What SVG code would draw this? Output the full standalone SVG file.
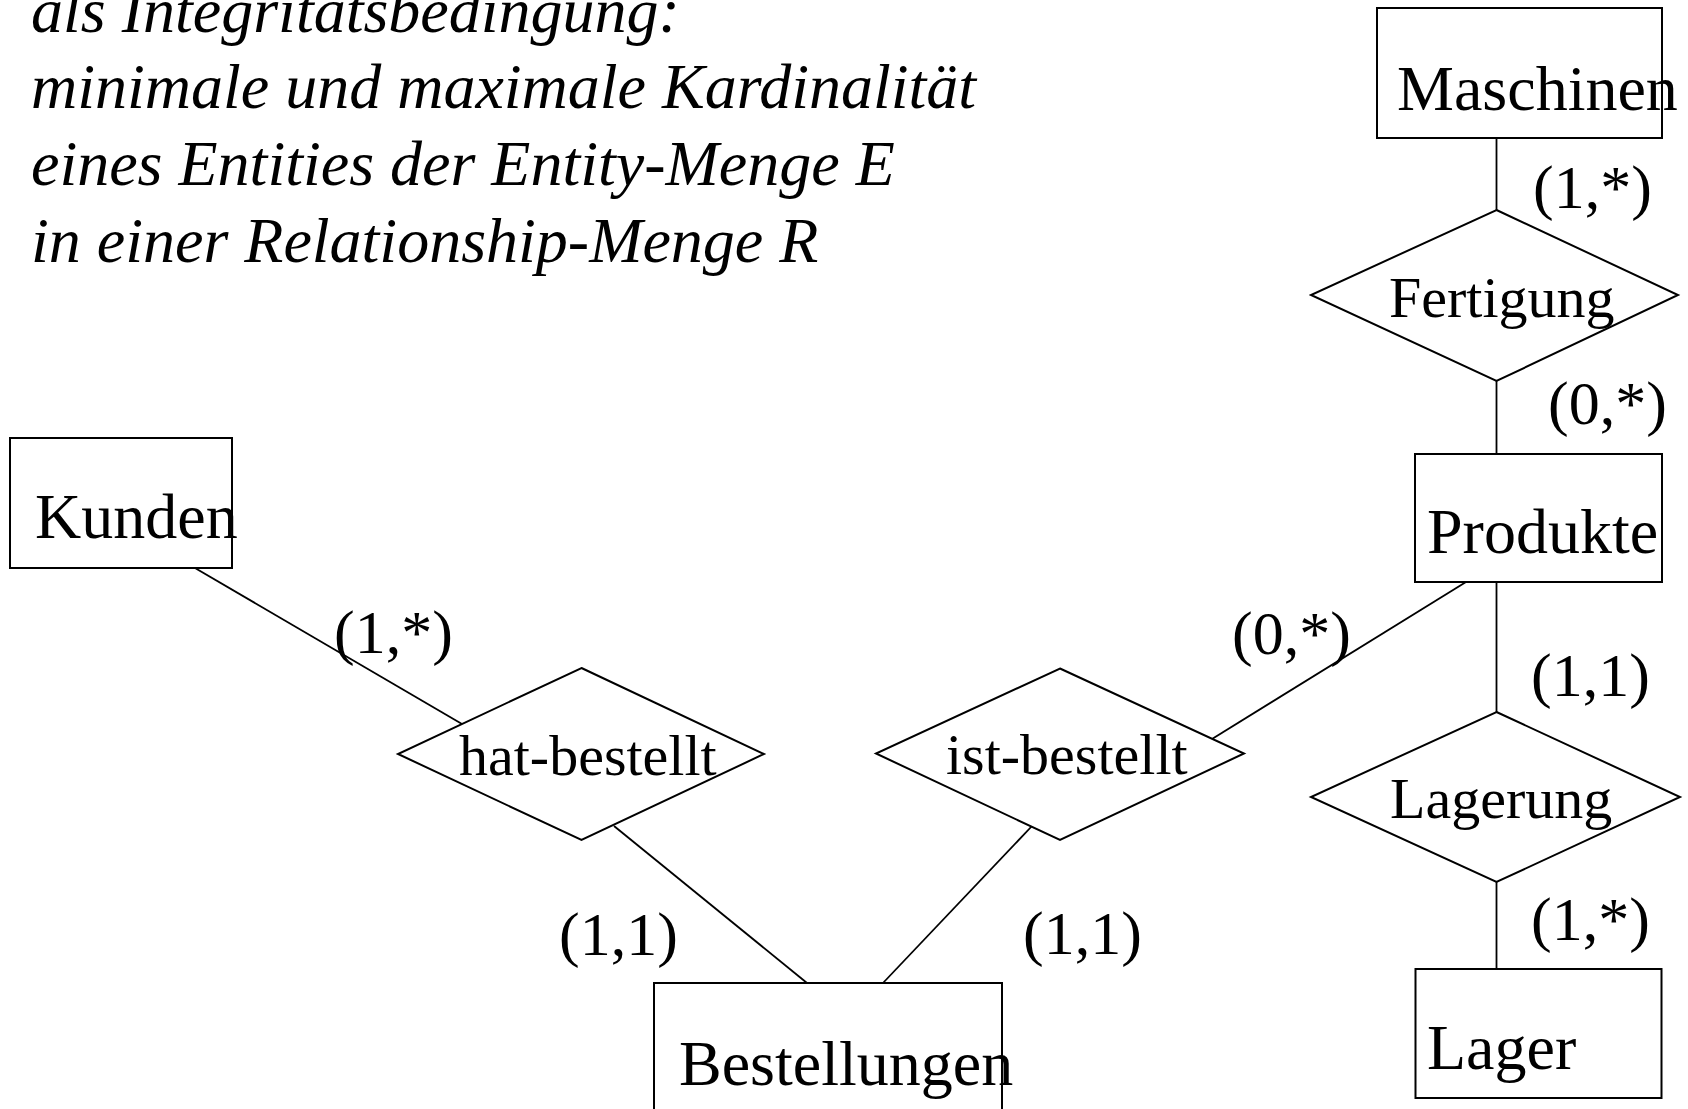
<svg xmlns="http://www.w3.org/2000/svg" width="1688" height="1109" viewBox="0 0 1688 1109">
<style>
  .ent { fill: #fff; stroke: #000; stroke-width: 2; }
  .rel { fill: #fff; stroke: #000; stroke-width: 2; }
  .conn line { stroke: #000; stroke-width: 1.8; }
  text { font-family: "Liberation Serif", "Times New Roman", serif; fill: #000; }
  .et { font-size: 64px; }
  .rt { font-size: 58px; }
  .ct { font-size: 62px; }
  .it { font-size: 64px; font-style: italic; }
</style>
<rect width="1688" height="1109" fill="#fff"/>
<g id="intro">
  <text class="it" x="31" y="32">als Integritätsbedingung:</text>
  <text class="it" x="31" y="108">minimale und maximale Kardinalität</text>
  <text class="it" x="31" y="185">eines Entities der Entity-Menge E</text>
  <text class="it" x="31" y="262">in einer Relationship-Menge R</text>
</g>
<g id="connectors" class="conn">
  <line x1="1496.5" y1="138" x2="1496.5" y2="210"/>
  <line x1="1496.5" y1="381" x2="1496.5" y2="454"/>
  <line x1="1496.5" y1="582" x2="1496.5" y2="712"/>
  <line x1="1496.5" y1="882" x2="1496.5" y2="969"/>
  <line x1="195" y1="568" x2="462" y2="724"/>
  <line x1="614" y1="826" x2="807" y2="983"/>
  <line x1="1466" y1="582" x2="1212" y2="739"/>
  <line x1="1032" y1="826" x2="883" y2="983"/>
</g>
<g id="Maschinen">
  <rect class="ent" x="1377" y="8" width="285" height="130"/>
  <text class="et" x="1397" y="110">Maschinen</text>
</g>
<g id="Fertigung">
  <polygon class="rel" points="1496.5,210 1678,295 1496.5,381 1311,295"/>
  <text class="rt" x="1389" y="317">Fertigung</text>
</g>
<g id="Produkte">
  <rect class="ent" x="1415" y="454" width="247" height="128"/>
  <text class="et" x="1427" y="553">Produkte</text>
</g>
<g id="Lagerung">
  <polygon class="rel" points="1496.5,712 1680,797 1496.5,882 1311,797"/>
  <text class="rt" x="1390" y="818">Lagerung</text>
</g>
<g id="Lager">
  <rect class="ent" x="1415.5" y="969" width="246" height="129"/>
  <text class="et" x="1427" y="1069">Lager</text>
</g>
<g id="Kunden">
  <rect class="ent" x="10" y="438" width="222" height="130"/>
  <text class="et" x="35" y="538">Kunden</text>
</g>
<g id="hat-bestellt">
  <polygon class="rel" points="581.5,668 764,754 581.5,840 398,754"/>
  <text class="rt" x="459" y="775">hat-bestellt</text>
</g>
<g id="ist-bestellt">
  <polygon class="rel" points="1060,668.5 1244,753.5 1060,840 876,753.5"/>
  <text class="rt" x="946" y="774">ist-bestellt</text>
</g>
<g id="Bestellungen">
  <rect class="ent" x="654" y="983" width="348" height="150"/>
  <text class="et" x="679" y="1085">Bestellungen</text>
</g>
<g id="cardinalities">
  <text class="ct" x="1533" y="208">(1,*)</text>
  <text class="ct" x="1548" y="424">(0,*)</text>
  <text class="ct" x="1531" y="696">(1,1)</text>
  <text class="ct" x="1531" y="940">(1,*)</text>
  <text class="ct" x="334" y="653">(1,*)</text>
  <text class="ct" x="1232" y="654">(0,*)</text>
  <text class="ct" x="559" y="955">(1,1)</text>
  <text class="ct" x="1023" y="954">(1,1)</text>
</g>
</svg>
